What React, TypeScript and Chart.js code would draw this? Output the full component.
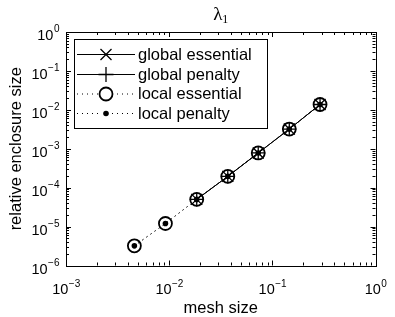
import { useEffect, useRef } from "react";
import { Chart, registerables } from "chart.js";

Chart.register(...registerables);

const globalMesh = [0.0185, 0.037, 0.073, 0.146, 0.29];
const globalEssential = [5.0e-5, 1.95e-4, 7.8e-4, 3.2e-3, 1.37e-2];
const globalPenalty = [5.0e-5, 1.95e-4, 7.8e-4, 3.2e-3, 1.37e-2];
const localMesh = [0.0046, 0.0092, 0.0185, 0.037, 0.073, 0.146, 0.29];
const localEssential = [3.2e-6, 1.2e-5, 5.0e-5, 1.95e-4, 7.8e-4, 3.2e-3, 1.37e-2];
const localPenalty = [3.2e-6, 1.2e-5, 5.0e-5, 1.95e-4, 7.8e-4, 3.2e-3, 1.37e-2];

const xTickExps = [-3, -2, -1, 0];
const yTickExps = [-6, -5, -4, -3, -2, -1, 0];
const legendLabels = ["global essential", "global penalty", "local essential", "local penalty"];
const titleText = "λ";
const titleSub = "1";
const xTitle = "mesh size";
const yTitle = "relative enclosure size";

const SANS = '"Liberation Sans", Arial, sans-serif';
const SERIF = '"Liberation Serif", "DejaVu Serif", serif';

function pairs(xs: number[], ys: number[]) {
  return xs.map((x, i) => ({ x, y: ys[i] }));
}

function drawMarker(ctx: CanvasRenderingContext2D, kind: number, x: number, y: number) {
  ctx.save();
  ctx.strokeStyle = "#000";
  ctx.fillStyle = "#000";
  ctx.setLineDash([]);
  if (kind === 0) {
    ctx.lineWidth = 1.3;
    const d = 5.5;
    ctx.beginPath();
    ctx.moveTo(x - d, y - d);
    ctx.lineTo(x + d, y + d);
    ctx.moveTo(x + d, y - d);
    ctx.lineTo(x - d, y + d);
    ctx.stroke();
  } else if (kind === 1) {
    ctx.lineWidth = 1.3;
    const d = 7.5;
    ctx.beginPath();
    ctx.moveTo(x - d, y);
    ctx.lineTo(x + d, y);
    ctx.moveTo(x, y - d);
    ctx.lineTo(x, y + d);
    ctx.stroke();
  } else if (kind === 2) {
    ctx.lineWidth = 1.8;
    ctx.beginPath();
    ctx.arc(x, y, 6.5, 0, Math.PI * 2);
    ctx.stroke();
  } else {
    ctx.beginPath();
    ctx.arc(x, y, 2.8, 0, Math.PI * 2);
    ctx.fill();
  }
  ctx.restore();
}

const framePlugin = {
  id: "matlabFrame",
  afterDraw(chart: any) {
    const ctx: CanvasRenderingContext2D = chart.ctx;
    const { left, right, top, bottom } = chart.chartArea;
    const xs = chart.scales.x;
    const ys = chart.scales.y;
    ctx.save();
    ctx.strokeStyle = "#000";
    ctx.lineWidth = 1;
    ctx.setLineDash([]);
    // box
    ctx.strokeRect(Math.round(left) + 0.5, Math.round(top) + 0.5, Math.round(right - left), Math.round(bottom - top));

    // ticks
    ctx.beginPath();
    for (let e = -3; e <= 0; e++) {
      for (let m = 1; m <= 9; m++) {
        const v = m * Math.pow(10, e);
        if (v > 1.0000001) continue;
        const px = Math.round(xs.getPixelForValue(v)) + 0.5;
        const len = m === 1 ? 5 : 3;
        ctx.moveTo(px, bottom);
        ctx.lineTo(px, bottom - len);
        ctx.moveTo(px, top);
        ctx.lineTo(px, top + len);
      }
    }
    for (let e = -6; e <= 0; e++) {
      for (let m = 1; m <= 9; m++) {
        const v = m * Math.pow(10, e);
        if (v > 1.0000001) continue;
        const py = Math.round(ys.getPixelForValue(v)) + 0.5;
        const len = m === 1 ? 5 : 3;
        ctx.moveTo(left, py);
        ctx.lineTo(left + len, py);
        ctx.moveTo(right, py);
        ctx.lineTo(right - len, py);
      }
    }
    ctx.stroke();

    // tick labels
    ctx.fillStyle = "#000";
    ctx.textBaseline = "alphabetic";
    const baseFont = "14.5px " + SANS;
    const expFont = "10px " + SANS;
    for (const e of xTickExps) {
      const px = xs.getPixelForValue(Math.pow(10, e));
      const expStr = e < 0 ? "\u2212" + String(-e) : String(e);
      ctx.font = baseFont;
      const w1 = ctx.measureText("10").width;
      ctx.font = expFont;
      const w2 = ctx.measureText(expStr).width;
      const x0 = px - (w1 + w2) / 2;
      ctx.textAlign = "left";
      ctx.font = baseFont;
      ctx.fillText("10", x0, 294);
      ctx.font = expFont;
      ctx.fillText(expStr, x0 + w1 + 0.5, 286.5);
    }
    for (const e of yTickExps) {
      const py = ys.getPixelForValue(Math.pow(10, e));
      const expStr = e < 0 ? "\u2212" + String(-e) : String(e);
      ctx.font = expFont;
      const w2 = ctx.measureText(expStr).width;
      ctx.font = baseFont;
      const w1 = ctx.measureText("10").width;
      const xr = 59.5;
      ctx.textAlign = "left";
      ctx.font = baseFont;
      ctx.fillText("10", xr - w2 - 0.5 - w1, py + 8);
      ctx.font = expFont;
      ctx.fillText(expStr, xr - w2, py);
    }

    // axis titles
    ctx.font = "16.5px " + SANS;
    ctx.textAlign = "center";
    ctx.fillText(xTitle, (left + right) / 2, 313);
    ctx.save();
    ctx.translate(21, (top + bottom) / 2);
    ctx.rotate(-Math.PI / 2);
    ctx.fillText(yTitle, 0, 0);
    ctx.restore();

    // title
    ctx.textAlign = "left";
    const cx = (left + right) / 2;
    ctx.font = "19px " + SERIF;
    const lw = ctx.measureText(titleText).width;
    ctx.font = "12px " + SERIF;
    const sw = ctx.measureText(titleSub).width;
    const tx = cx - (lw + sw) / 2;
    ctx.font = "19px " + SERIF;
    ctx.fillText(titleText, tx, 20);
    ctx.font = "12px " + SERIF;
    ctx.fillText(titleSub, tx + lw, 23);

    // legend
    const bx = 74.5, by = 39.5, bw = 193, bh = 89;
    ctx.fillStyle = "#fff";
    ctx.fillRect(bx, by, bw, bh);
    ctx.strokeStyle = "#000";
    ctx.lineWidth = 1;
    ctx.strokeRect(bx, by, bw, bh);
    const rows = [54, 74, 93.5, 113];
    const lx1 = 77, lx2 = 135, mx = 106;
    legendLabels.forEach((lab, i) => {
      const y = rows[i];
      ctx.save();
      ctx.strokeStyle = "#000";
      ctx.lineWidth = 1;
      if (i >= 2) ctx.setLineDash([1, 4]);
      ctx.beginPath();
      ctx.moveTo(lx1, y + 0.5);
      ctx.lineTo(lx2, y + 0.5);
      ctx.stroke();
      ctx.restore();
      if (i >= 2) {
        ctx.fillStyle = "#fff";
        ctx.beginPath();
        ctx.arc(mx, y, 6, 0, Math.PI * 2);
        ctx.fill();
      }
      drawMarker(ctx, i, mx, y + 0.5);
      ctx.fillStyle = "#000";
      ctx.font = "16.5px " + SANS;
      ctx.textAlign = "left";
      ctx.textBaseline = "middle";
      ctx.fillText(lab, 138, y + 1);
      ctx.textBaseline = "alphabetic";
    });
    ctx.restore();
  },
};

export default function App() {
  const ref = useRef<HTMLCanvasElement | null>(null);
  useEffect(() => {
    if (!ref.current) return;
    const chart = new Chart(ref.current, {
      type: "line",
      data: {
        datasets: [
          {
            label: legendLabels[0],
            data: pairs(globalMesh, globalEssential),
            borderColor: "#000",
            borderWidth: 1,
            pointStyle: "crossRot",
            pointRadius: 7.8,
            pointBorderWidth: 1.3,
            pointBorderColor: "#000",
            pointBackgroundColor: "#000",
            fill: false,
          },
          {
            label: legendLabels[1],
            data: pairs(globalMesh, globalPenalty),
            borderColor: "#000",
            borderWidth: 1,
            pointStyle: "cross",
            pointRadius: 7,
            pointBorderWidth: 1.3,
            pointBorderColor: "#000",
            pointBackgroundColor: "#000",
            fill: false,
          },
          {
            label: legendLabels[2],
            data: pairs(localMesh, localEssential),
            borderColor: "#000",
            borderWidth: 1,
            borderDash: [1, 4],
            pointStyle: "circle",
            pointRadius: 6.5,
            pointBorderWidth: 1.8,
            pointBorderColor: "#000",
            pointBackgroundColor: "rgba(0,0,0,0)",
            fill: false,
          },
          {
            label: legendLabels[3],
            data: pairs(localMesh, localPenalty),
            borderColor: "#000",
            borderWidth: 1,
            borderDash: [1, 4],
            pointStyle: "circle",
            pointRadius: 2.8,
            pointBorderWidth: 0,
            pointBorderColor: "#000",
            pointBackgroundColor: "#000",
            fill: false,
          },
        ],
      },
      options: {
        animation: false,
        responsive: false,
        layout: { padding: { left: 66, top: 32, right: 19.5, bottom: 51.5 } },
        plugins: { legend: { display: false }, title: { display: false }, tooltip: { enabled: false } },
        scales: {
          x: { type: "logarithmic", min: 1e-3, max: 1, display: false },
          y: { type: "logarithmic", min: 1e-6, max: 1, display: false },
        },
      },
      plugins: [framePlugin],
    });
    return () => chart.destroy();
  }, []);
  return (
    <div style={{ position: "fixed", left: 0, top: 0, width: 395, height: 317, background: "#fff" }}>
      <canvas ref={ref} width={395} height={317} style={{ display: "block", width: 395, height: 317 }} />
    </div>
  );
}
